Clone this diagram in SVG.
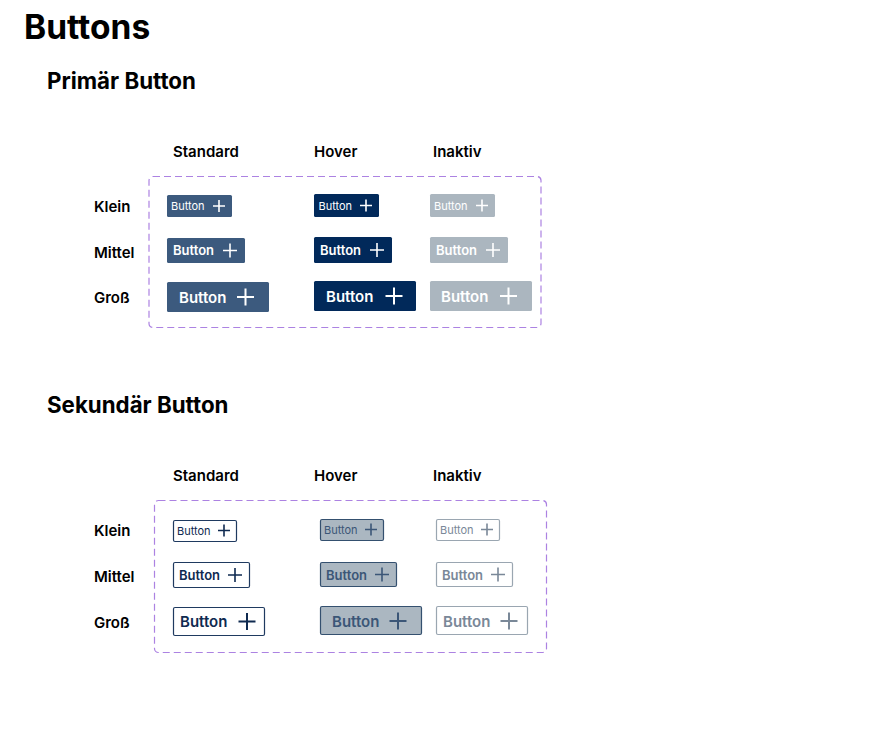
<svg xmlns="http://www.w3.org/2000/svg" width="881" height="756" viewBox="0 0 881 756">
<style>
text{font-family:Inter,"Noto Sans","Liberation Sans",sans-serif;}
.h1{font-size:33.5px;font-weight:700;fill:#000}
.h2{font-size:22.3px;font-weight:700;fill:#000}
.col{font-size:15px;font-weight:600;fill:#000}
.row{font-size:15px;font-weight:600;fill:#000}
.frame{fill:none;stroke:#ac82e2;stroke-width:1.2;stroke-dasharray:7 4}
.s{font-size:11px;font-weight:400}
.m{font-size:13px;font-weight:600}
.l{font-size:15px;font-weight:600}
.p-std rect{fill:#3c5a7e}
.p-hov rect{fill:#01295a}
.p-ina rect{fill:#abb6bf}
.p-std text,.p-hov text,.p-ina text{fill:#fff}
.p-std path,.p-hov path,.p-ina path{stroke:#fff;fill:none}
.s-std rect{fill:#fff;stroke:#1f3a60;stroke-width:1.2}
.s-std text{fill:#0f2a50}
.s-std path{stroke:#0f2a50;fill:none}
.s-hov rect{fill:#abb7c1;stroke:#34506f;stroke-width:1.2}
.s-hov text{fill:#3b5677}
.s-hov path{stroke:#3b5677;fill:none}
.s-ina rect{fill:#fff;stroke:#9aa6b1;stroke-width:1.2}
.s-ina text{fill:#7a8898}
.s-ina path{stroke:#7a8898;fill:none}
.ps{stroke-width:1.6}
.pm{stroke-width:1.6}
.pl{stroke-width:2}
</style>
<rect width="881" height="756" fill="#fff"/>
<text class="h1" x="24" y="39">Buttons</text>

<g id="primary">
<text class="h2" x="47" y="89">Primär Button</text>
<text class="col" x="173" y="157">Standard</text>
<text class="col" x="314" y="157">Hover</text>
<text class="col" x="433" y="157">Inaktiv</text>
<text class="row" x="94" y="212">Klein</text>
<text class="row" x="94" y="258">Mittel</text>
<text class="row" x="94" y="303">Groß</text>
<rect class="frame" x="149" y="176.5" width="392" height="151" rx="4"/>

<g id="p-std-s" class="p-std"><rect x="167" y="195" width="65" height="22" rx="1.5"/><text class="s" x="171" y="210">Button</text><path class="ps" d="M213 206h12M219 200v12"/></g>
<g id="p-std-m" class="p-std"><rect x="167" y="238" width="78" height="25" rx="1.5"/><text class="m" x="173" y="255">Button</text><path class="pm" d="M223 250.5h14M230 243.5v14"/></g>
<g id="p-std-l" class="p-std"><rect x="167" y="282" width="102" height="30" rx="1.5"/><text class="l" x="179" y="302.5">Button</text><path class="pl" d="M237 297h17M245.5 288.5v17"/></g>

<g id="p-hov-s" class="p-hov"><rect x="314" y="194" width="65" height="23" rx="1.5"/><text class="s" x="318.5" y="209.5">Button</text><path class="ps" d="M360 205.5h12M366 199.5v12"/></g>
<g id="p-hov-m" class="p-hov"><rect x="314" y="237" width="78" height="26" rx="1.5"/><text class="m" x="320" y="254.5">Button</text><path class="pm" d="M370 250h14M377 243v14"/></g>
<g id="p-hov-l" class="p-hov"><rect x="314" y="281" width="102" height="30" rx="1.5"/><text class="l" x="326" y="301.5">Button</text><path class="pl" d="M385.5 296h17M394 287.5v17"/></g>

<g id="p-ina-s" class="p-ina"><rect x="430" y="194" width="65" height="23" rx="1.5"/><text class="s" x="434" y="209.5">Button</text><path class="ps" d="M476 205.5h12M482 199.5v12"/></g>
<g id="p-ina-m" class="p-ina"><rect x="430" y="237" width="78" height="26" rx="1.5"/><text class="m" x="436" y="254.5">Button</text><path class="pm" d="M486 250h14M493 243v14"/></g>
<g id="p-ina-l" class="p-ina"><rect x="430" y="281" width="102" height="30" rx="1.5"/><text class="l" x="441" y="301.5">Button</text><path class="pl" d="M500 296h17M508.5 287.5v17"/></g>
</g>

<g id="secondary">
<text class="h2" x="47" y="413">Sekundär Button</text>
<text class="col" x="173" y="481">Standard</text>
<text class="col" x="314" y="481">Hover</text>
<text class="col" x="433" y="481">Inaktiv</text>
<text class="row" x="94" y="536">Klein</text>
<text class="row" x="94" y="582">Mittel</text>
<text class="row" x="94" y="628">Groß</text>
<rect class="frame" x="154.5" y="500.5" width="392" height="152" rx="4"/>

<g id="s-std-s" class="s-std"><rect x="173.5" y="520.5" width="63" height="21" rx="1.5"/><text class="s" x="177" y="535">Button</text><path class="ps" d="M218 530.5h12M224 524.5v12"/></g>
<g id="s-std-m" class="s-std"><rect x="173.5" y="562.5" width="76" height="25" rx="1.5"/><text class="m" x="179" y="580">Button</text><path class="pm" d="M228 575h14M235 568v14"/></g>
<g id="s-std-l" class="s-std"><rect x="173.5" y="607.5" width="91" height="28" rx="1.5"/><text class="l" x="180" y="627">Button</text><path class="pl" d="M238.5 621.5h17M247 613v17"/></g>

<g id="s-hov-s" class="s-hov"><rect x="320.5" y="519.5" width="63" height="21" rx="1.5"/><text class="s" x="324" y="534">Button</text><path class="ps" d="M365 529.5h12M371 523.5v12"/></g>
<g id="s-hov-m" class="s-hov"><rect x="320.5" y="562.5" width="76" height="24" rx="1.5"/><text class="m" x="326" y="579.5">Button</text><path class="pm" d="M375 574.5h14M382 567.5v14"/></g>
<g id="s-hov-l" class="s-hov"><rect x="320.5" y="606.5" width="101" height="28" rx="1.5"/><text class="l" x="332" y="626.5">Button</text><path class="pl" d="M389.5 621h17M398 612.5v17"/></g>

<g id="s-ina-s" class="s-ina"><rect x="436.5" y="519.5" width="63" height="21" rx="1.5"/><text class="s" x="440" y="534">Button</text><path class="ps" d="M481 529.5h12M487 523.5v12"/></g>
<g id="s-ina-m" class="s-ina"><rect x="436.5" y="562.5" width="76" height="24" rx="1.5"/><text class="m" x="442" y="579.5">Button</text><path class="pm" d="M491 574.5h14M498 567.5v14"/></g>
<g id="s-ina-l" class="s-ina"><rect x="436.5" y="606.5" width="91" height="28" rx="1.5"/><text class="l" x="443" y="626.5">Button</text><path class="pl" d="M500.5 621h17M509 612.5v17"/></g>
</g>
</svg>
